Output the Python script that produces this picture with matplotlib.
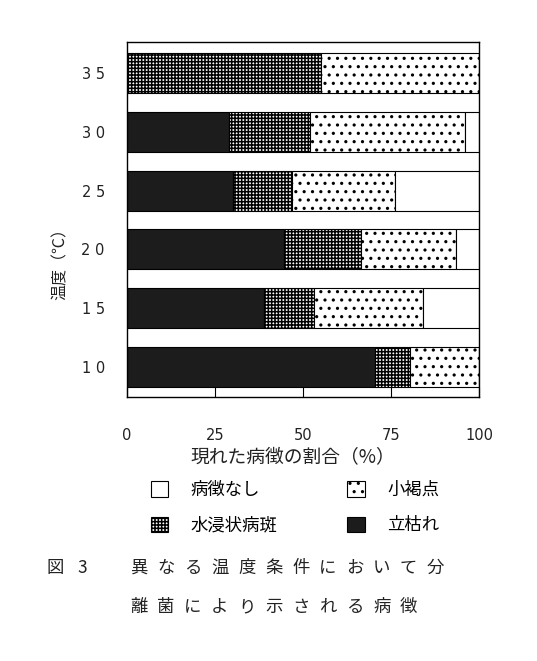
import matplotlib
matplotlib.use("Agg")
import matplotlib.pyplot as plt
import numpy as np

plt.rcParams['font.family'] = ['Noto Sans CJK JP', 'DejaVu Sans']
plt.rcParams['hatch.linewidth'] = 1.1

# Data
temps = ['1 0', '1 5', '2 0', '2 5', '3 0', '3 5']
tachigare = [70.5, 39, 44.5, 30, 29, 0]        # 立枯れ
mizushimi = [10, 14, 22, 17, 23, 55]           # 水浸状病斑
shoukatten = [19.5, 31, 27, 29, 44, 45]        # 小褐点
nashi = [0, 16, 6.5, 24, 4, 0]                 # 病徴なし
xticks = [0, 25, 50, 75, 100]

W, H = 537, 661
fig = plt.figure(figsize=(W / 100, H / 100), dpi=100)
ax = fig.add_axes([127 / W, 1 - 397 / H, 352 / W, 355 / H])

y = np.arange(len(temps))
h = 0.68
left = np.zeros(len(temps))
b1 = ax.barh(y, tachigare, h, left=left, color='#1c1c1c', edgecolor='black', linewidth=0.8, label='立枯れ')
left = left + np.array(tachigare)
b2 = ax.barh(y, mizushimi, h, left=left, color='white', edgecolor='black', hatch='+++++', linewidth=0.8, label='水浸状病斑')
left = left + np.array(mizushimi)
b3 = ax.barh(y, shoukatten, h, left=left, color='white', edgecolor='black', hatch='..', linewidth=0.8, label='小褐点')
left = left + np.array(shoukatten)
b4 = ax.barh(y, nashi, h, left=left, color='white', edgecolor='black', linewidth=0.8, label='病徴なし')

ax.set_xlim(0, 100)
ax.set_ylim(-0.51, 5.53)
ax.set_yticks(y)
ax.set_yticklabels(temps, fontsize=10.5, family='DejaVu Sans', color='#222222')
ax.tick_params(axis='y', length=0, pad=16)
ax.set_xticks(xticks)
ax.set_xticklabels([str(v) for v in xticks], fontsize=10.5, family='DejaVu Sans', color='#222222')
ax.tick_params(axis='x', direction='in', length=7, width=0.8, pad=22)
for s in ax.spines.values():
    s.set_linewidth(1.0)

fig.text(293 / W, 1 - 457 / H, '現れた病徴の割合（%）', fontsize=13.5, ha='center', va='center', color='#222222')
fig.text(60 / W, 1 - 260 / H, '温度（℃）', fontsize=11.5, ha='center', va='center', rotation=90, color='#222222')

handles = [b4, b2, b3, b1]
labels = ['病徴なし', '水浸状病斑', '小褐点', '立枯れ']
fig.legend(handles, labels, ncol=2, loc='upper left', bbox_to_anchor=(151 / W, 1 - 481 / H),
           frameon=False, fontsize=12.5, handlelength=1.0, handleheight=1.0,
           handletextpad=1.3, columnspacing=4.0, labelspacing=1.0, borderpad=0,
           borderaxespad=0)

# Caption
fig.text(47 / W, 1 - 568 / H, '図', fontsize=12.5, ha='left', va='center', color='#222222')
fig.text(77 / W, 1 - 568 / H, '3', fontsize=12.5, ha='left', va='center', color='#222222')
line1 = '異なる温度条件において分'
line2 = '離菌により示される病徴'
for i, ch in enumerate(line1):
    fig.text((130 + i * 27) / W, 1 - 568 / H, ch, fontsize=12.5, ha='left', va='center', color='#222222')
for i, ch in enumerate(line2):
    fig.text((130 + i * 27) / W, 1 - 607 / H, ch, fontsize=12.5, ha='left', va='center', color='#222222')

fig.savefig('out.png', dpi=100, facecolor='white')
